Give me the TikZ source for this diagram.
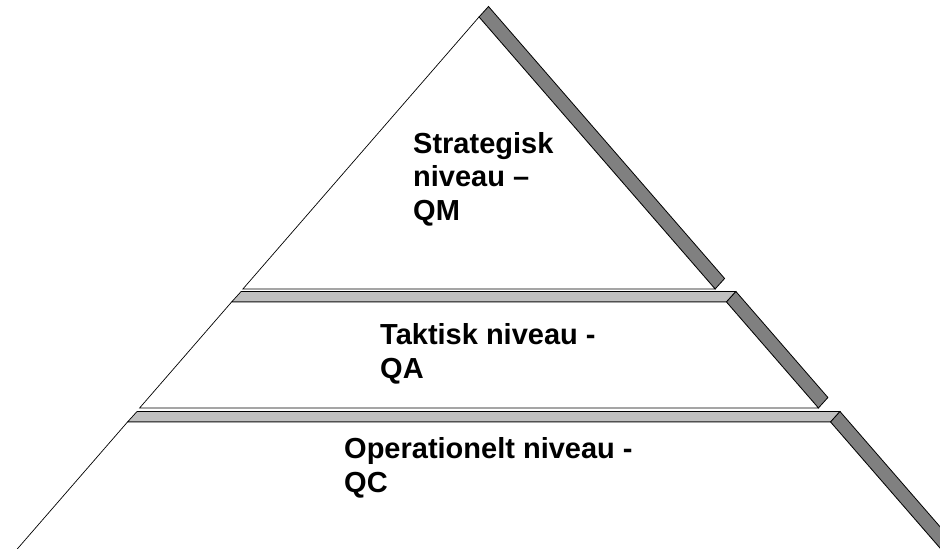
\documentclass[tikz,border=0pt]{standalone}
\usepackage{fontspec}
\setmainfont{Liberation Sans}
\usepackage{tikz}
\usetikzlibrary{calc}

\definecolor{sidegray}{HTML}{808080}
\definecolor{topgray}{HTML}{C0C0C0}

\begin{document}
\begin{tikzpicture}[
        x=1pt, y=-1pt,                 % pixel-like units, y downwards
        front/.style={fill=white, draw=black, line width=0.7pt},
        side/.style={fill=sidegray, draw=black, line width=0.8pt},
        top/.style={fill=topgray, draw=black, line width=0.7pt},
        label/.style={anchor=base west, inner sep=0pt, align=left,
                      font=\bfseries\fontsize{29}{33.5}\selectfont}
    ]
    \useasboundingbox (0,0) rectangle (940,549);
    \clip (0,0) rectangle (940,549);

    % corners of the front faces
    \coordinate (apex) at (479,17);
    \coordinate (s1l) at (242.9,289);  \coordinate (s1r) at (715.1,289);
    \coordinate (t2l) at (231.6,302);  \coordinate (t2r) at (726.4,302);
    \coordinate (s2l) at (139.6,408);  \coordinate (s2r) at (818.4,408);
    \coordinate (t3l) at (127.5,422);  \coordinate (t3r) at (830.5,422);
    \coordinate (s3l) at (7.7,560);    \coordinate (s3r) at (950.3,560);

    % top level
    \draw[side] (apex) -- (s1r) -- ++(9.5,-10.5) -- ($(apex)+(9.5,-10.5)$) -- cycle;
    \draw[front] (apex) -- (s1r) -- (s1l) -- cycle;

    % middle level
    \draw[top] (t2l) -- (t2r) -- ++(9.5,-10.5) -- ($(t2l)+(9.5,-10.5)$) -- cycle;
    \draw[side] (t2r) -- (s2r) -- ++(9.5,-10.5) -- ($(t2r)+(9.5,-10.5)$) -- cycle;
    \draw[front] (t2l) -- (t2r) -- (s2r) -- (s2l) -- cycle;

    % bottom level
    \draw[top] (t3l) -- (t3r) -- ++(9.5,-10.5) -- ($(t3l)+(9.5,-10.5)$) -- cycle;
    \draw[side] (t3r) -- (s3r) -- ++(9.5,-10.5) -- ($(t3r)+(9.5,-10.5)$) -- cycle;
    \draw[front] (t3l) -- (t3r) -- (s3r) -- (s3l) -- cycle;

    % texts (base = last line)
    \node[label] (qm) at (413,220) {Strategisk\\niveau --\\QM};
    \node[label] (qa) at (380,378) {Taktisk niveau -\\QA};
    \node[label] (qc) at (344,492) {Operationelt niveau -\\QC};
\end{tikzpicture}
\end{document}
